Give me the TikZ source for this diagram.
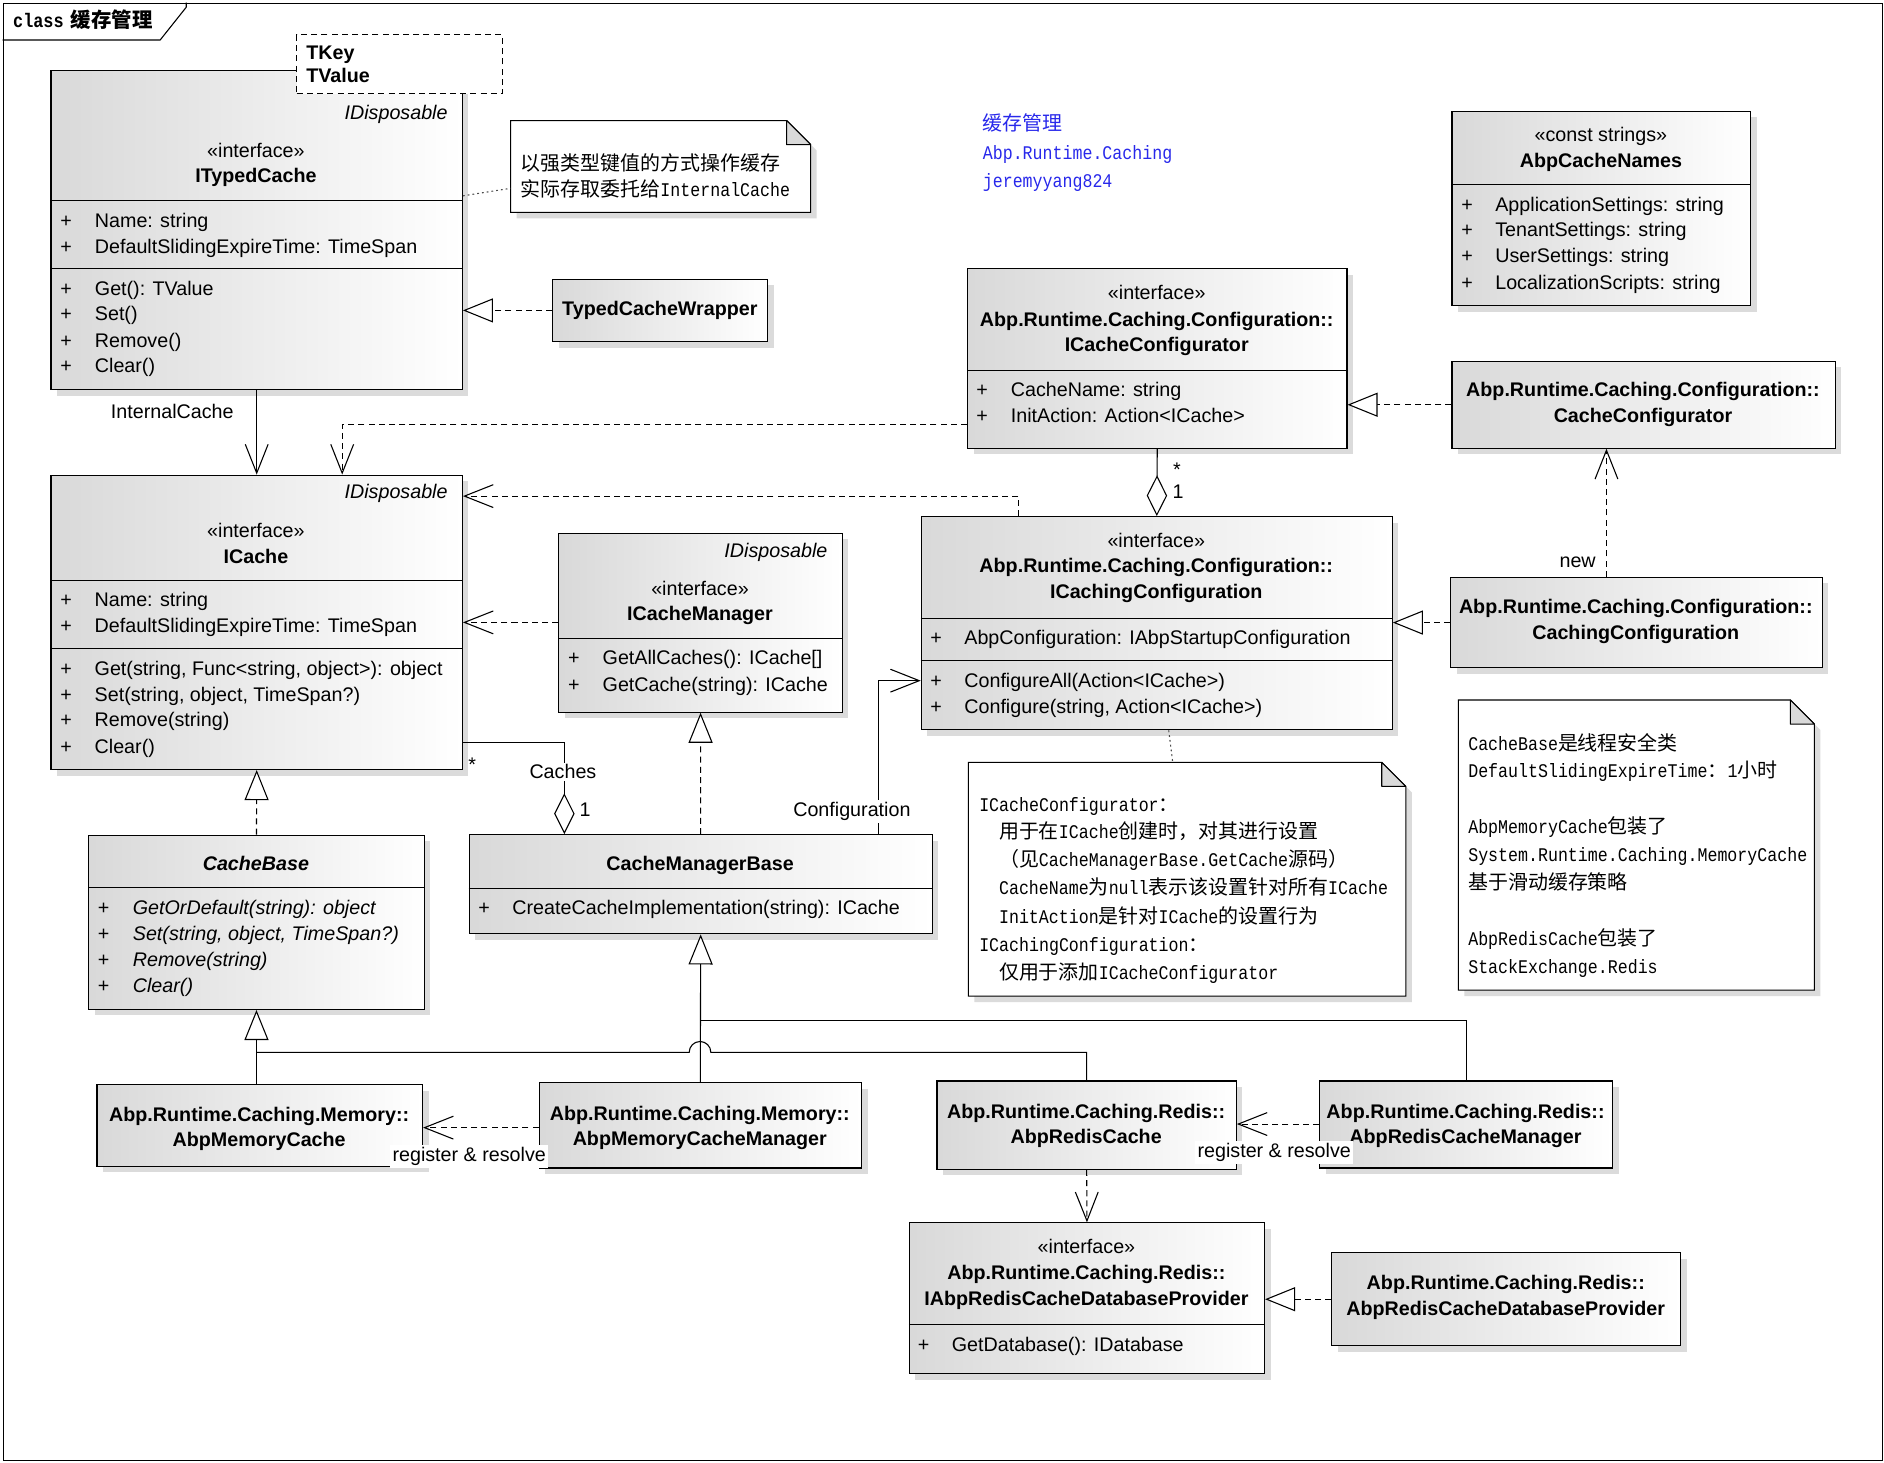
\documentclass[tikz,border=0pt]{standalone}
\usepackage{fontspec}
\setmainfont{Liberation Sans}
\newfontfamily\cjkfont{Noto Sans CJK SC}
\newfontfamily\latmono{Liberation Mono}[FakeStretch=0.86]
\usetikzlibrary{arrows.meta,shadows}
\definecolor{bluetxt}{RGB}{40,40,235}
\newcommand\zh[1]{{\cjkfont\fontsize{16.6}{20}\selectfont #1}}
\newcommand\zhb[1]{{\cjkfont\bfseries\fontsize{17}{20}\selectfont #1}}
\newcommand\tn[5]{\node[txt, anchor=#2] (#1) at (#3,#4+5.8) {#5};}
\newcommand\umem[5]{\node[txt, anchor=base] (#1p) at (#2,#4+5.8) {+};\node[txt, anchor=base west] (#1) at (#3,#4+5.8) {#5};}
\newcommand\nl[4]{\node[ntxt, anchor=base west] (#1) at (#2,#3+5.5) {#4};}
\newcommand\csep[2]{\draw (#1.west |- 0,#2) -- (#1.east |- 0,#2);}
\newcommand\cbox[5]{\node[cls, minimum width={(#4-#2)*1pt}, minimum height={(#5-#3)*1pt}] (#1) at (#2,#3) {};}
\newcommand\notebox[5]{%
  \fill[black!14] (#2+5,#3+5) -- (#4+5-20,#3+5) -- (#4+5,#3+25) -- (#4+5,#5+5) -- (#2+5,#5+5) -- cycle;
  \node[anchor=north west, inner sep=0pt, outer sep=0pt, minimum width={(#4-#2)*1pt}, minimum height={(#5-#3)*1pt}] (#1) at (#2,#3) {};
  \filldraw[fill=white] (#1.north west) -- ([xshift=-20pt]#1.north east) -- ([yshift=-20pt]#1.north east) -- (#1.south east) -- (#1.south west) -- cycle;
  \filldraw[fill=black!15, line join=bevel] ([xshift=-20pt]#1.north east) -- ([xshift=-20pt,yshift=-20pt]#1.north east) -- ([yshift=-20pt]#1.north east) -- cycle;
}
\begin{document}
\begin{tikzpicture}[x=1pt,y=-1pt,line width=0.9pt,
  txt/.style={inner sep=0pt, outer sep=0pt, font=\fontsize{16.4}{20}\selectfont},
  ntxt/.style={inner sep=0pt, outer sep=0pt, font=\latmono\fontsize{16.08}{20}\selectfont},
  cls/.style={draw, anchor=north west, inner sep=0pt, left color=black!15, right color=white,
    drop shadow={shadow xshift=5pt, shadow yshift=-5pt, fill=black!14, opacity=1}},
  real/.style={dash pattern=on 5pt off 3.5pt, -{Triangle[length=25pt,width=20pt,fill=white]}},
  gen/.style={-{Triangle[length=25pt,width=20pt,fill=white]}},
  dep/.style={dash pattern=on 5pt off 3.5pt, -{Straight Barb[length=24pt,width=19pt]}},
  assoc/.style={-{Straight Barb[length=24pt,width=19pt]}},
  aggr/.style={{Diamond[length=34pt,width=17pt,fill=white]}-},
  lbl/.style={txt, fill=white, inner sep=1.8pt, anchor=base},
  notelink/.style={dash pattern=on 1.5pt off 2.5pt, black!70}]
\useasboundingbox (0,0) rectangle (1568,1216.8);
\fill[white] (0,0) rectangle (1568,1216.8);

% frame
\node[draw, anchor=north west, inner sep=0pt, minimum width=1564.3pt, minimum height=1213pt] (frame) at (2.2,2.2) {};
\draw (frame.north west |- 0,33.3) -- (133.3,33.3) -- (155,6) -- (155,2.2);
\node[anchor=base west, inner sep=0pt] (title) at (10.5,22.5) {\latmono\bfseries\fontsize{16.3}{18}\selectfont class\hspace{6pt}\zhb{缓存管理}};

% ITypedCache
\cbox{itc}{42}{58}{384.4}{324}
\csep{itc}{166.5}\csep{itc}{223.5}
\node[draw, fill=white, dash pattern=on 5pt off 3.5pt, anchor=north west, inner sep=0pt, minimum width=171pt, minimum height=49pt] (tpl) at (246.5,28.6) {};
\tn{tplk}{base west}{255}{43.5}{\bfseries TKey}
\tn{tplv}{base west}{255}{63}{\bfseries TValue}
\tn{itcs}{base east}{372.5}{93.5}{\itshape IDisposable}
\tn{itcst}{base}{213}{125.4}{«interface»}
\tn{itcn}{base}{213}{146.2}{\bfseries ITypedCache}
\umem{itca1}{55}{79}{183.7}{Name: string}
\umem{itca2}{55}{79}{205.3}{DefaultSlidingExpireTime: TimeSpan}
\umem{itco1}{55}{79}{240}{Get(): TValue}
\umem{itco2}{55}{79}{261.3}{Set()}
\umem{itco3}{55}{79}{283}{Remove()}
\umem{itco4}{55}{79}{304.6}{Clear()}

% note 1
\notebox{n1}{425}{100.4}{674.7}{176.7}
\nl{n1l1}{433.5}{136}{\zh{以强类型键值的方式操作缓存}}
\nl{n1l2}{433.5}{158.1}{\zh{实际存取委托给}InternalCache}

% TypedCacheWrapper
\cbox{tcw}{459.7}{232}{638.6}{283.8}
\tn{tcwn}{base}{549.2}{256.6}{\bfseries TypedCacheWrapper}

% ICache
\cbox{ic}{42}{395}{384.4}{640}
\csep{ic}{483.3}\csep{ic}{539.5}
\tn{ics}{base east}{372.5}{409.3}{\itshape IDisposable}
\tn{icst}{base}{213}{441.5}{«interface»}
\tn{icn}{base}{213}{462.9}{\bfseries ICache}
\umem{ica1}{55}{78.8}{499}{Name: string}
\umem{ica2}{55}{78.8}{521}{DefaultSlidingExpireTime: TimeSpan}
\umem{ico1}{55}{78.8}{556}{Get(string, Func<string, object>): object}
\umem{ico2}{55}{78.8}{578}{Set(string, object, TimeSpan?)}
\umem{ico3}{55}{78.8}{599}{Remove(string)}
\umem{ico4}{55}{78.8}{621}{Clear()}

% ICacheManager
\cbox{icm}{464.7}{443.3}{700.5}{592.3}
\csep{icm}{531.3}
\tn{icms}{base east}{688.6}{457.8}{\itshape IDisposable}
\tn{icmst}{base}{582.6}{489.7}{«interface»}
\tn{icmn}{base}{582.6}{511}{\bfseries ICacheManager}
\umem{icmo1}{477.7}{501.6}{547.4}{GetAllCaches(): ICache[]}
\umem{icmo2}{477.7}{501.6}{569.3}{GetCache(string): ICache}

% CacheBase
\cbox{cb}{73.4}{694.7}{352.6}{839.7}
\csep{cb}{739}
\tn{cbn}{base}{213}{718.4}{\bfseries\itshape CacheBase}
\umem{cbo1}{86.2}{110.6}{755.5}{\itshape GetOrDefault(string): object}
\umem{cbo2}{86.2}{110.6}{776.9}{\itshape Set(string, object, TimeSpan?)}
\umem{cbo3}{86.2}{110.6}{798.9}{\itshape Remove(string)}
\umem{cbo4}{86.2}{110.6}{820.6}{\itshape Clear()}

% CacheManagerBase
\cbox{cmb}{390}{694.2}{775.4}{776.8}
\csep{cmb}{739.4}
\tn{cmbn}{base}{582.7}{719}{\bfseries CacheManagerBase}
\umem{cmbo1}{403}{426.5}{755.5}{CreateCacheImplementation(string): ICache}

% ICacheConfigurator
\cbox{icc}{804.8}{223.3}{1120.6}{372.6}
\csep{icc}{308.5}
\tn{iccst}{base}{962.7}{243.3}{«interface»}
\tn{iccns}{base}{962.7}{265.8}{\bfseries Abp.Runtime.Caching.Configuration::}
\tn{iccn}{base}{962.7}{287.1}{\bfseries ICacheConfigurator}
\umem{icca1}{817.3}{841.3}{324.6}{CacheName: string}
\umem{icca2}{817.3}{841.3}{346.2}{InitAction: Action<ICache>}

% ICachingConfiguration
\cbox{icg}{766.3}{429.5}{1158.3}{607}
\csep{icg}{514.6}\csep{icg}{549.9}
\tn{icgst}{base}{962.3}{450}{«interface»}
\tn{icgns}{base}{962.3}{471}{\bfseries Abp.Runtime.Caching.Configuration::}
\tn{icgn}{base}{962.3}{492.5}{\bfseries ICachingConfiguration}
\umem{icga1}{779}{802.6}{531}{AbpConfiguration: IAbpStartupConfiguration}
\umem{icgo1}{779}{802.6}{566}{ConfigureAll(Action<ICache>)}
\umem{icgo2}{779}{802.6}{588}{Configure(string, Action<ICache>)}

% AbpCacheNames
\cbox{acn}{1208}{92.1}{1456.8}{253.9}
\csep{acn}{153.4}
\tn{acnst}{base}{1332.4}{111.8}{«const strings»}
\tn{acnn}{base}{1332.4}{133.7}{\bfseries AbpCacheNames}
\umem{acna1}{1221}{1244.5}{170.6}{ApplicationSettings: string}
\umem{acna2}{1221}{1244.5}{191.4}{TenantSettings: string}
\umem{acna3}{1221}{1244.5}{213}{UserSettings: string}
\umem{acna4}{1221}{1244.5}{235.3}{LocalizationScripts: string}

% CacheConfigurator
\cbox{cc}{1208}{300.2}{1526.8}{372.6}
\tn{ccns}{base}{1367.4}{324.6}{\bfseries Abp.Runtime.Caching.Configuration::}
\tn{ccn}{base}{1367.4}{346.2}{\bfseries CacheConfigurator}

% CachingConfiguration
\cbox{cfg}{1206.8}{480}{1516}{555.4}
\tn{cfgns}{base}{1361.4}{504.4}{\bfseries Abp.Runtime.Caching.Configuration::}
\tn{cfgn}{base}{1361.4}{526.3}{\bfseries CachingConfiguration}

% note 2
\notebox{n2}{806}{634.5}{1170}{829}
\nl{n2l1}{815}{670}{ICacheConfigurator\zh{：}}
\nl{n2l2}{831.5}{692.5}{\zh{用于在}ICache\zh{创建时，对其进行设置}}
\nl{n2l3}{831.5}{716}{\zh{（见}CacheManagerBase.GetCache\zh{源码）}}
\nl{n2l4}{831.5}{739}{CacheName\zh{为}null\zh{表示该设置针对所有}ICache}
\nl{n2l5}{831.5}{763}{InitAction\zh{是针对}ICache\zh{的设置行为}}
\nl{n2l6}{815}{786.5}{ICachingConfiguration\zh{：}}
\nl{n2l7}{831.5}{809.5}{\zh{仅用于添加}ICacheConfigurator}

% note 3
\notebox{n3}{1213.8}{582.6}{1510}{824}
\nl{n3l1}{1222}{618.7}{CacheBase\zh{是线程安全类}}
\nl{n3l2}{1222}{641.7}{DefaultSlidingExpireTime\zh{：}1\zh{小时}}
\nl{n3l3}{1222}{688}{AbpMemoryCache\zh{包装了}}
\nl{n3l4}{1222}{711.6}{System.Runtime.Caching.MemoryCache}
\nl{n3l5}{1222}{734.4}{\zh{基于滑动缓存策略}}
\nl{n3l6}{1222}{781}{AbpRedisCache\zh{包装了}}
\nl{n3l7}{1222}{804.5}{StackExchange.Redis}

% blue text
\node[ntxt, text=bluetxt, anchor=base west] (bl1) at (818,109) {\zh{缓存管理}};
\node[ntxt, text=bluetxt, anchor=base west] (bl2) at (818,133.1) {Abp.Runtime.Caching};
\node[ntxt, text=bluetxt, anchor=base west] (bl3) at (818,155.9) {jeremyyang824};

% bottom classes
\cbox{amc}{80.3}{902.5}{351.2}{970.2}
\tn{amcns}{base}{215.7}{928}{\bfseries Abp.Runtime.Caching.Memory::}
\tn{amcn}{base}{215.7}{948.8}{\bfseries AbpMemoryCache}
\cbox{amcm}{448.2}{900.8}{716.6}{971.6}
\tn{amcmns}{base}{582.4}{926.6}{\bfseries Abp.Runtime.Caching.Memory::}
\tn{amcmn}{base}{582.4}{947.5}{\bfseries AbpMemoryCacheManager}
\cbox{arc}{779.4}{899.2}{1028.5}{972.7}
\tn{arcns}{base}{904}{925.2}{\bfseries Abp.Runtime.Caching.Redis::}
\tn{arcn}{base}{904}{945.5}{\bfseries AbpRedisCache}
\cbox{arcm}{1097.8}{899.2}{1341.7}{971.6}
\tn{arcmns}{base}{1219.7}{925}{\bfseries Abp.Runtime.Caching.Redis::}
\tn{arcmn}{base}{1219.7}{945.5}{\bfseries AbpRedisCacheManager}
\cbox{iar}{756.4}{1017.3}{1052}{1143}
\csep{iar}{1102.2}
\tn{iarst}{base}{904.2}{1037.6}{«interface»}
\tn{iarns}{base}{904.2}{1059}{\bfseries Abp.Runtime.Caching.Redis::}
\tn{iarn}{base}{904.2}{1080.6}{\bfseries IAbpRedisCacheDatabaseProvider}
\umem{iaro1}{768.7}{792.2}{1118.9}{GetDatabase(): IDatabase}
\cbox{ardp}{1108}{1042.3}{1398.3}{1119.4}
\tn{ardpns}{base}{1253.2}{1067.3}{\bfseries Abp.Runtime.Caching.Redis::}
\tn{ardpn}{base}{1253.2}{1088.9}{\bfseries AbpRedisCacheDatabaseProvider}

% connectors
\draw[notelink] (itc.east |- 0,163) -- (n1.west |- 0,156.7);
\draw[notelink] (icg.south -| 972.7,0) -- (n2.north -| 976,0);
\draw[assoc] (itc.south) -- (ic.north);
\tn{lblic}{base}{143.4}{342.6}{InternalCache}
\draw[real] (tcw.west) -- (tcw.west -| itc.east);
\draw[dep] (icc.west |- 0,353.3) -| (ic.north -| 284.8,0);
\draw[dep] (icg.north -| 848,0) |- (ic.east |- 0,412.9);
\draw[dep] (icm.west |- 0,518) -- (ic.east |- 0,518);
\draw[real] (cb.north) -- (ic.south);
\draw[real] (cmb.north) -- (icm.south);
\draw[aggr] (cmb.north -| 469.7,0) |- (ic.east |- 0,617.8);
\tn{lblstar1}{base}{393}{636}{*}
\node[lbl] (lblcaches) at (468.5,648.3) {Caches};
\tn{lblone1}{base}{487}{674}{1}
\draw[assoc] (cmb.north -| 731,0) |- (icg.west |- 0,566.5);
\node[lbl] (lblconf) at (709,679.8) {Configuration};
\draw[aggr] (icg.north) -- (icc.south);
\tn{lblstar2}{base}{979.6}{391}{*}
\tn{lblone2}{base}{980.5}{409.5}{1}
\draw[real] (cc.west) -- (cc.west -| icc.east);
\draw[real] (cfg.west) -- (cfg.west -| icg.east);
\draw[dep] (cfg.north -| 1337,0) -- (cc.south -| 1337,0);
\tn{lblnew}{base}{1313}{466.7}{new}

\draw[gen] (amc.north -| cb.south) -- (cb.south);
\draw (arc.north) -- (arc.north |- 0,875.8) -- (591.6,875.8) arc[start angle=0, end angle=-180, radius=9] -- (cb.south |- 0,875.8);
\draw[gen] (amcm.north) -- (cmb.south);
\draw (arcm.north) |- (cmb.south |- 0,849.5);
\draw[dep] (amcm.west |- 0,938.5) -- (amc.east |- 0,938.5);
\node[lbl] (rr1) at (390.5,966.5) {register \& resolve};
\draw[dep] (arcm.west |- 0,935.5) -- (arc.east |- 0,935.5);
\node[lbl] (rr2) at (1060.5,963.5) {register \& resolve};
\draw[dep] (arc.south) -- (iar.north);
\draw[real] (ardp.west) -- (ardp.west -| iar.east);
\end{tikzpicture}
\end{document}
